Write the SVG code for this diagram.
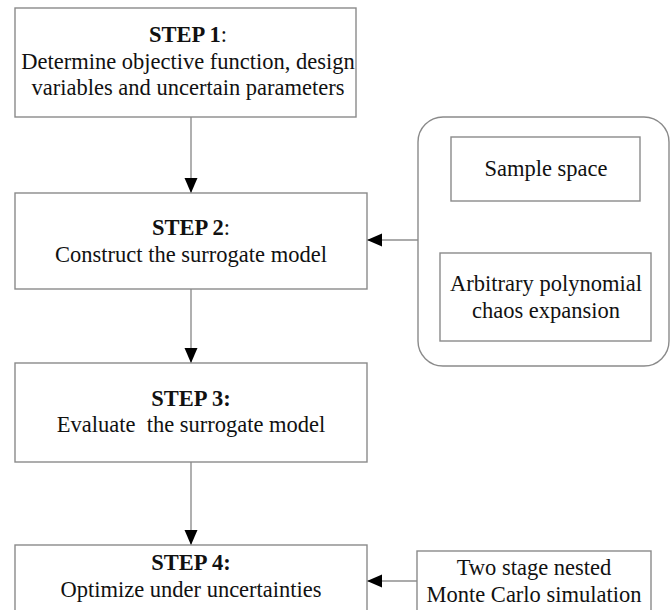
<svg xmlns="http://www.w3.org/2000/svg" width="672" height="610" viewBox="0 0 672 610">
<style>
.box{fill:#fff;stroke:#8a8a8a;stroke-width:1.4}
.ln{fill:none;stroke:#8f8f8f;stroke-width:1.4}
text{font-family:"Liberation Serif","Times New Roman",serif;font-size:22.5px;fill:#111;text-anchor:middle}
.b{font-weight:bold}
</style>
<defs>
<marker id="ah" markerUnits="userSpaceOnUse" markerWidth="16" markerHeight="14" refX="15" refY="6.5" orient="auto">
<path d="M0,0 L15,6.5 L0,13 z" fill="#000"/>
</marker>
</defs>
<rect width="672" height="610" fill="#fff"/>
<g id="connectors">
<line class="ln" x1="191" y1="117" x2="191" y2="193" marker-end="url(#ah)"/>
<line class="ln" x1="191" y1="289" x2="191" y2="363" marker-end="url(#ah)"/>
<line class="ln" x1="191" y1="462" x2="191" y2="545" marker-end="url(#ah)"/>
<line class="ln" x1="546" y1="201" x2="546" y2="253" marker-end="url(#ah)"/>
<line class="ln" x1="418" y1="240" x2="367" y2="240" marker-end="url(#ah)"/>
<line class="ln" x1="417" y1="581" x2="367" y2="581" marker-end="url(#ah)"/>
</g>
<g id="step1">
<rect class="box" x="15" y="8" width="341" height="109"/>
<text x="188" y="42"><tspan class="b">STEP 1</tspan>:</text>
<text x="188" y="69">Determine objective function, design</text>
<text x="188" y="95">variables and uncertain parameters</text>
</g>
<g id="step2">
<rect class="box" x="15" y="193" width="352" height="96"/>
<text x="191" y="235"><tspan class="b">STEP 2</tspan>:</text>
<text x="191" y="262">Construct the surrogate model</text>
</g>
<g id="container">
<rect class="box" x="418" y="117" width="251" height="249" rx="25" ry="25"/>
</g>
<g id="sample">
<rect class="box" x="451" y="137" width="189" height="64"/>
<text x="546" y="176">Sample space</text>
</g>
<g id="apc">
<rect class="box" x="440" y="253" width="211" height="88"/>
<text x="546" y="291">Arbitrary polynomial</text>
<text x="546" y="318">chaos expansion</text>
</g>
<g id="step3">
<rect class="box" x="15" y="363" width="352" height="99"/>
<text x="191" y="406" class="b">STEP 3:</text>
<text x="191" y="432" style="white-space:pre">Evaluate  the surrogate model</text>
</g>
<g id="step4">
<rect class="box" x="15" y="545" width="352" height="80"/>
<text x="191" y="570" class="b">STEP 4:</text>
<text x="191" y="597">Optimize under uncertainties</text>
</g>
<g id="montecarlo">
<rect class="box" x="417" y="551" width="234" height="74"/>
<text x="534" y="575">Two stage nested</text>
<text x="534" y="602">Monte Carlo simulation</text>
</g>
</svg>
